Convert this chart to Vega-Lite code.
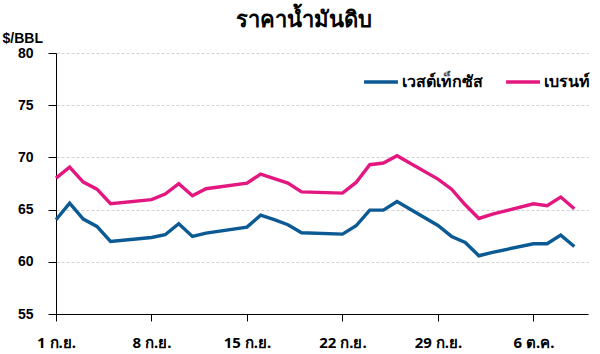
{
  "$schema": "https://vega.github.io/schema/vega-lite/v6.json",
  "autosize": {"type": "none"},
  "width": 532,
  "height": 261,
  "padding": {"left": 56, "top": 53, "right": 12, "bottom": 40},
  "background": "white",
  "title": {
    "text": "ราคาน้ำมันดิบ",
    "anchor": "middle",
    "frame": "group",
    "dx": -18,
    "dy": 5,
    "fontSize": 22,
    "fontWeight": "bold",
    "font": "Noto Sans",
    "color": "#000000"
  },
  "config": {
    "view": {"stroke": null},
    "font": "Liberation Sans"
  },
  "data": {
    "values": [
      {"date": "2025-09-01", "series": "เวสต์เท็กซัส", "price": 64.03},
      {"date": "2025-09-02", "series": "เวสต์เท็กซัส", "price": 65.62},
      {"date": "2025-09-03", "series": "เวสต์เท็กซัส", "price": 64.09},
      {"date": "2025-09-04", "series": "เวสต์เท็กซัส", "price": 63.39},
      {"date": "2025-09-05", "series": "เวสต์เท็กซัส", "price": 61.95},
      {"date": "2025-09-08", "series": "เวสต์เท็กซัส", "price": 62.33},
      {"date": "2025-09-09", "series": "เวสต์เท็กซัส", "price": 62.59},
      {"date": "2025-09-10", "series": "เวสต์เท็กซัส", "price": 63.64},
      {"date": "2025-09-11", "series": "เวสต์เท็กซัส", "price": 62.43},
      {"date": "2025-09-12", "series": "เวสต์เท็กซัส", "price": 62.75},
      {"date": "2025-09-15", "series": "เวสต์เท็กซัส", "price": 63.32},
      {"date": "2025-09-16", "series": "เวสต์เท็กซัส", "price": 64.47},
      {"date": "2025-09-17", "series": "เวสต์เท็กซัส", "price": 64.03},
      {"date": "2025-09-18", "series": "เวสต์เท็กซัส", "price": 63.55},
      {"date": "2025-09-19", "series": "เวสต์เท็กซัส", "price": 62.78},
      {"date": "2025-09-22", "series": "เวสต์เท็กซัส", "price": 62.65},
      {"date": "2025-09-23", "series": "เวสต์เท็กซัส", "price": 63.45},
      {"date": "2025-09-24", "series": "เวสต์เท็กซัส", "price": 64.95},
      {"date": "2025-09-25", "series": "เวสต์เท็กซัส", "price": 64.95},
      {"date": "2025-09-26", "series": "เวสต์เท็กซัส", "price": 65.78},
      {"date": "2025-09-29", "series": "เวสต์เท็กซัส", "price": 63.48},
      {"date": "2025-09-30", "series": "เวสต์เท็กซัส", "price": 62.43},
      {"date": "2025-10-01", "series": "เวสต์เท็กซัส", "price": 61.85},
      {"date": "2025-10-02", "series": "เวสต์เท็กซัส", "price": 60.58},
      {"date": "2025-10-03", "series": "เวสต์เท็กซัส", "price": 60.91},
      {"date": "2025-10-06", "series": "เวสต์เท็กซัส", "price": 61.73},
      {"date": "2025-10-07", "series": "เวสต์เท็กซัส", "price": 61.73},
      {"date": "2025-10-08", "series": "เวสต์เท็กซัส", "price": 62.56},
      {"date": "2025-10-09", "series": "เวสต์เท็กซัส", "price": 61.47},
      {"date": "2025-09-01", "series": "เบรนท์", "price": 68.02},
      {"date": "2025-09-02", "series": "เบรนท์", "price": 69.07},
      {"date": "2025-09-03", "series": "เบรนท์", "price": 67.64},
      {"date": "2025-09-04", "series": "เบรนท์", "price": 66.96},
      {"date": "2025-09-05", "series": "เบรนท์", "price": 65.56},
      {"date": "2025-09-08", "series": "เบรนท์", "price": 65.95},
      {"date": "2025-09-09", "series": "เบรนท์", "price": 66.49},
      {"date": "2025-09-10", "series": "เบรนท์", "price": 67.48},
      {"date": "2025-09-11", "series": "เบรนท์", "price": 66.33},
      {"date": "2025-09-12", "series": "เบรนท์", "price": 67.0},
      {"date": "2025-09-15", "series": "เบรนท์", "price": 67.54},
      {"date": "2025-09-16", "series": "เบรนท์", "price": 68.4},
      {"date": "2025-09-17", "series": "เบรนท์", "price": 67.97},
      {"date": "2025-09-18", "series": "เบรนท์", "price": 67.54},
      {"date": "2025-09-19", "series": "เบรนท์", "price": 66.7},
      {"date": "2025-09-22", "series": "เบรนท์", "price": 66.58},
      {"date": "2025-09-23", "series": "เบรนท์", "price": 67.6},
      {"date": "2025-09-24", "series": "เบรนท์", "price": 69.3},
      {"date": "2025-09-25", "series": "เบรนท์", "price": 69.46},
      {"date": "2025-09-26", "series": "เบรนท์", "price": 70.16},
      {"date": "2025-09-29", "series": "เบรนท์", "price": 67.92},
      {"date": "2025-09-30", "series": "เบรนท์", "price": 66.96},
      {"date": "2025-10-01", "series": "เบรนท์", "price": 65.46},
      {"date": "2025-10-02", "series": "เบรนท์", "price": 64.15},
      {"date": "2025-10-03", "series": "เบรนท์", "price": 64.57},
      {"date": "2025-10-06", "series": "เบรนท์", "price": 65.56},
      {"date": "2025-10-07", "series": "เบรนท์", "price": 65.37},
      {"date": "2025-10-08", "series": "เบรนท์", "price": 66.2},
      {"date": "2025-10-09", "series": "เบรนท์", "price": 65.08}
    ]
  },
  "mark": {"type": "line", "strokeWidth": 3.4, "strokeJoin": "miter", "interpolate": "linear"},
  "encoding": {
    "x": {
      "field": "date",
      "type": "temporal",
      "scale": {
        "type": "utc",
        "domain": [
          {"year": 2025, "month": 9, "date": 1, "utc": true},
          {"year": 2025, "month": 10, "date": 10, "utc": true}
        ]
      },
      "axis": {
        "title": null,
        "values": [
          {"year": 2025, "month": 9, "date": 1, "utc": true},
          {"year": 2025, "month": 9, "date": 8, "utc": true},
          {"year": 2025, "month": 9, "date": 15, "utc": true},
          {"year": 2025, "month": 9, "date": 22, "utc": true},
          {"year": 2025, "month": 9, "date": 29, "utc": true},
          {"year": 2025, "month": 10, "date": 6, "utc": true}
        ],
        "labelExpr": "utcdate(datum.value) + ' ' + (utcmonth(datum.value) == 8 ? 'ก.ย.' : 'ต.ค.')",
        "grid": false,
        "domainColor": "#000000",
        "domainWidth": 1,
        "tickColor": "#000000",
        "tickSize": 7,
        "labelPadding": 14,
        "labelFontSize": 15,
        "labelFontWeight": "bold",
        "labelColor": "#000000",
        "labelFont": "Noto Sans",
        "labelFlush": false
      }
    },
    "y": {
      "field": "price",
      "type": "quantitative",
      "scale": {"domain": [55, 80], "nice": false, "zero": false},
      "axis": {
        "values": [55, 60, 65, 70, 75, 80],
        "title": "$/BBL",
        "titleAngle": 0,
        "titleAlign": "left",
        "titleBaseline": "alphabetic",
        "titleX": -54,
        "titleY": -11,
        "titleFontSize": 14,
        "titleFontWeight": "bold",
        "titleColor": "#000000",
        "titleFont": "Liberation Sans",
        "grid": true,
        "gridColor": "#d0d0d0",
        "gridDash": [3, 2],
        "gridWidth": 1,
        "domainColor": "#000000",
        "tickColor": "#000000",
        "tickSize": 8,
        "labelPadding": 15,
        "labelFontSize": 14,
        "labelFontWeight": "bold",
        "labelColor": "#000000",
        "labelFont": "Liberation Sans"
      }
    },
    "color": {
      "field": "series",
      "type": "nominal",
      "scale": {"domain": ["เวสต์เท็กซัส", "เบรนท์"], "range": ["#0b5a94", "#e3177f"]},
      "legend": {
        "title": null,
        "orient": "none",
        "direction": "horizontal",
        "legendX": 306,
        "legendY": 10,
        "symbolType": "stroke",
        "symbolSize": 1150,
        "symbolStrokeWidth": 3.4,
        "labelFontSize": 16,
        "labelFontWeight": "bold",
        "labelColor": "#000000",
        "labelFont": "Noto Sans",
        "labelOffset": 2,
        "columnPadding": 16
      }
    }
  }
}
